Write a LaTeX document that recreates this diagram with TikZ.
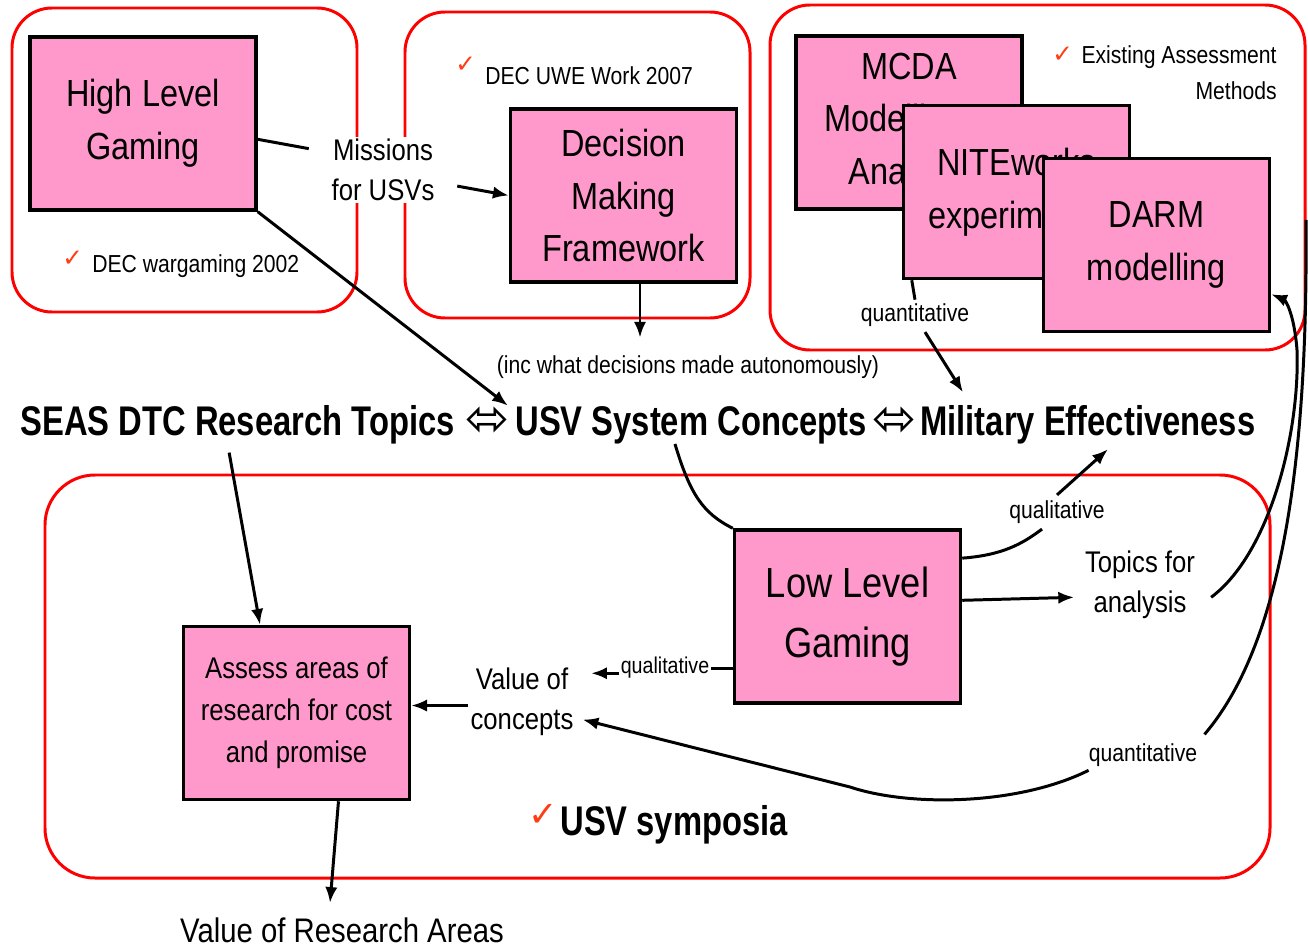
\documentclass[tikz,border=0pt]{standalone}
\usepackage{fontspec}
\setmainfont[FakeStretch=0.86]{Liberation Sans}
\newfontfamily\bnar[FakeStretch=0.79]{Liberation Sans}
\newfontfamily\dv{DejaVu Sans}
\usetikzlibrary{arrows.meta,calc}
\definecolor{pinkfill}{RGB}{255,153,204}
\definecolor{checkred}{RGB}{255,60,20}
\tikzset{
  redbox/.style={draw=red, line width=1.7pt, rounded corners=0.8cm},
  pinkbox/.style={draw=black, fill=pinkfill, line width=2pt, minimum width=4.52cm, minimum height=3.46cm, align=center, inner sep=0pt, font=\fontsize{21.5}{30}\selectfont},
  conn/.style={draw=black, line width=1.7pt},
  arr/.style={conn, -{Latex[length=9pt,width=7pt]}},
  lbl/.style={inner sep=1pt, align=center},
  small/.style={font=\fontsize{14}{20.5}\selectfont, inner sep=0pt},
  mid/.style={font=\fontsize{17}{22.7}\selectfont},
  bigbold/.style={font=\bnar\bfseries\fontsize{23.6}{28}\selectfont, inner sep=0pt},
  tick/.style={text=checkred, font=\dv\fontsize{14}{14}\selectfont, inner sep=0pt},
  dbl/.style={font=\dv\fontsize{30}{30}\selectfont, inner sep=0pt},
}
\begin{document}
\begin{tikzpicture}[x=0.02cm,y=-0.02cm]
\useasboundingbox (0,0) rectangle (1308,950);
\fill[white] (0,0) rectangle (1308,950);
% red frames
\draw[redbox] (12,8) rectangle (357,312);
\draw[redbox] (405,12) rectangle (750,318);
\draw[redbox] (770,5) rectangle (1305,350);
\draw[redbox, rounded corners=1cm] (45,475) rectangle (1270,878);
% pink boxes
\node[pinkbox] (hlg) at (143,123.5) {High Level\\Gaming};
\node[pinkbox] (dmf) at (623.5,195.5) {Decision\\Making\\Framework};
\node[pinkbox] (mcda) at (909,122.5) {MCDA\\Modelling \&\\Analysis};
\node[pinkbox] (nite) at (1016.5,192) {NITEworks\\experiments};
\node[pinkbox] (darm) at (1156.5,245) {DARM\\modelling};
\node[pinkbox, font=\fontsize{24}{34}\selectfont] (llg) at (847.5,616.5) {Low Level\\Gaming};
\node[pinkbox, font=\fontsize{17}{24}\selectfont] (ass) at (296.5,713) {Assess areas of\\research for cost\\and promise};
% labels
\node[tick, anchor=base west] (t1) at (62,266) {✓};
\node[small, anchor=base west] (decwar) at (92,272) {DEC wargaming 2002};
\node[tick, anchor=base west] (t2) at (455,72) {✓};
\node[small, anchor=base west] (decuwe) at (485,84) {DEC UWE Work 2007};
\node[tick, anchor=base west] (t3) at (1052,62) {✓};
\node[small, anchor=north east, align=right] (exist) at (1277,45) {Existing Assessment\\Methods};
\node[mid, lbl, fill=white] (miss) at (383,170) {Missions\\for USVs};
\node[small] (inc) at (688,367) {(inc what decisions made autonomously)};
\node[bigbold, anchor=base west] (seas) at (20,435) {SEAS DTC Research Topics};
\node[dbl] (eq1) at (488,422) {⬄};
\node[bigbold, anchor=base west] (usv) at (515,435) {USV System Concepts};
\node[dbl] (eq2) at (895,422) {⬄};
\node[bigbold, anchor=base west] (mil) at (920,435) {Military Effectiveness};
\node[small] (qt1) at (915,315) {quantitative};
\node[small] (ql1) at (1057,512) {qualitative};
\node[mid, lbl] (top) at (1140,585) {Topics for\\analysis};
\node[mid, lbl] (voc) at (522,702) {Value of\\concepts};
\node[font=\fontsize{13}{13}\selectfont, inner sep=1pt] (ql2) at (665,668) {qualitative};
\node[small] (qt2) at (1143,755) {quantitative};
\node[tick, font=\dv\fontsize{20}{20}\selectfont, anchor=base west] (t4) at (528,826) {✓};
\node[bigbold, anchor=base west] (symp) at (560,835) {USV symposia};
\node[font=\fontsize{19.4}{24}\selectfont, inner sep=0pt, anchor=base] (vra) at (342,942) {Value of Research Areas};
% connectors
\coordinate (offr) at (1306,220);
\coordinate (bend) at (850,787);
\draw[conn, shorten >=12pt] ([yshift=-9pt]hlg.east) -- ([yshift=10pt]miss.west);
\draw[arr, shorten <=12pt] ([yshift=-7pt]miss.east) -- (dmf.west);
\draw[arr] (hlg.south east) -- ([xshift=-4pt]usv.north west);
\draw[arr] ([xshift=0.33cm]dmf.south) -- ([xshift=0.33cm,yshift=10pt]dmf.south |- inc.north);
\draw[conn] ([xshift=0.2cm]nite.south west) -- ([yshift=2pt]qt1.north);
\draw[arr] ([xshift=0.2cm,yshift=-3pt]qt1.south) -- ([xshift=0.86cm,yshift=7pt]mil.north west);
\draw[conn] ([xshift=3.2cm]usv.south west) .. controls +(15,50) and +(-30,-15) .. (llg.north west);
\draw[conn] ([yshift=-17pt]llg.north east) .. controls +(40,-3) and +(-20,15) .. ([xshift=-0.3cm,yshift=-3pt]ql1.south);
\draw[arr] ([yshift=3pt]ql1.north) -- ([xshift=3.76cm,yshift=-3pt]mil.south west);
\draw[arr] ([yshift=-41pt]llg.north east) -- ([xshift=-5pt,yshift=-7pt]top.west);
\draw[arr] ([xshift=8pt,yshift=-7pt]top.east) .. controls +(60,-45) and (1300,430) .. (1297,350) .. controls (1294,312) and (1285,300) .. ([yshift=-28pt]darm.east);
\draw[conn] (offr) .. controls (1308,450) and (1285,640) .. ([xshift=4pt,yshift=5pt]qt2.north east);
\draw[arr] ([yshift=-2pt]qt2.south west) .. controls +(-70,35) and +(60,20) .. (bend) -- ([xshift=4pt,yshift=-10pt]voc.east);
\draw[arr, shorten <=5pt] ([xshift=-0.2cm]seas.south) -- ([xshift=-0.73cm]ass.north);
\draw[arr] ([yshift=-2pt]voc.west) -- ([yshift=-2pt]voc.west -| ass.east);
\draw[conn] (ql2.east -| llg.west) -- (ql2.east);
\draw[arr] ([yshift=-3pt]ql2.west) -- ([xshift=-0.55cm,yshift=-3pt]ql2.west);
\draw[arr] ([xshift=0.84cm]ass.south) -- ([xshift=-0.24cm,yshift=8pt]vra.north);
\end{tikzpicture}
\end{document}
